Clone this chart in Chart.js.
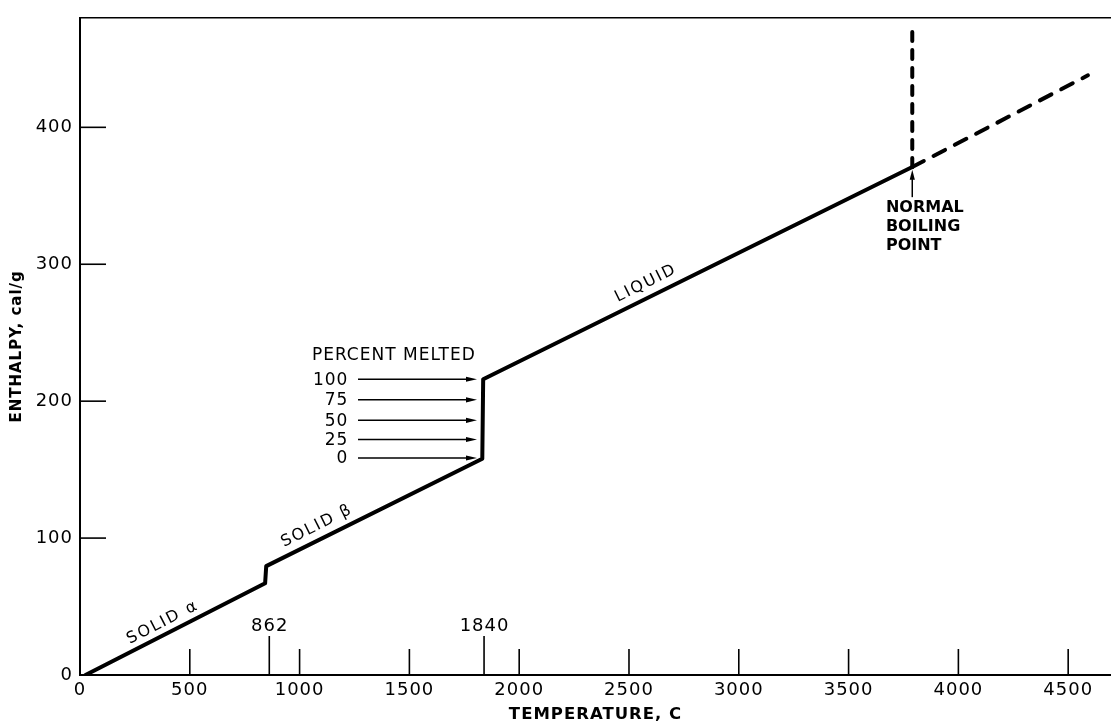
<!DOCTYPE html>
<html>
<head>
<meta charset="utf-8">
<title>Enthalpy vs temperature</title>
<script src="https://cdn.jsdelivr.net/npm/chart.js@4/dist/chart.umd.min.js"></script>
<style>
  html, body { margin: 0; padding: 0; background: #fff; }
  #wrap { width: 1111px; height: 727px; position: relative; }
</style>
</head>
<body>
<div id="wrap"><canvas id="c"></canvas></div>
<script>
// Enthalpy path: solid α, α→β step, solid β, melting step, liquid up to the normal boiling point
const pathTemp = [25, 843, 848, 1832, 1836, 3790];
const pathEnth = [0, 67, 79.5, 158, 216, 371];
// Boiling at constant temperature (dashed vertical)
const boilTemp = [3790, 3790];
const boilEnth = [371, 472];
// Liquid above the boiling point (extrapolated, dashed)
const extTemp = [3790, 4590];
const extEnth = [371, 438];
// Axis ticks
const xTickValues = [0, 500, 1000, 1500, 2000, 2500, 3000, 3500, 4000, 4500];
const yTickValues = [0, 100, 200, 300, 400];
// Transition temperatures marked on the temperature axis
const transitionTemps = [862, 1840];
// Fraction melted along the melting step
const meltPercent = ['100', '75', '50', '25', '0'];
const meltEnth = [216, 201, 186, 172, 158.5];
// Phase names written along the curve
const phaseLabels = ['SOLID α', 'SOLID β', 'LIQUID'];
const boilingNote = ['NORMAL', 'BOILING', 'POINT'];

const FONT = '"DejaVu Sans", sans-serif';
Chart.defaults.font.family = FONT;
Chart.defaults.color = '#000';

const pts = (xs, ys) => xs.map((v, i) => ({ x: v, y: ys[i] }));

const decor = {
  id: 'decor',
  beforeDraw(chart) {
    chart.ctx.letterSpacing = '1px';
  },
  afterDraw(chart) {
    const { ctx, chartArea: a, scales: { x, y } } = chart;
    const X = v => x.getPixelForValue(v);
    const Y = v => y.getPixelForValue(v);
    ctx.save();
    ctx.strokeStyle = '#000';
    ctx.fillStyle = '#000';
    ctx.lineCap = 'butt';
    const seg = (x1, y1, x2, y2, w) => {
      ctx.lineWidth = w;
      ctx.beginPath();
      ctx.moveTo(x1, y1);
      ctx.lineTo(x2, y2);
      ctx.stroke();
    };

    // top edge of the frame
    seg(a.left, a.top, a.right, a.top, 1.5);

    // tick marks pointing into the plot
    xTickValues.forEach(v => { if (v > 0) seg(X(v), a.bottom, X(v), a.bottom - 26, 1.6); });
    yTickValues.forEach(v => { if (v > 0) seg(a.left, Y(v), a.left + 26, Y(v), 1.6); });

    // transition temperatures
    ctx.font = '18px ' + FONT;
    ctx.letterSpacing = '1px';
    ctx.textAlign = 'center';
    ctx.textBaseline = 'alphabetic';
    transitionTemps.forEach(t => {
      seg(X(t), a.bottom, X(t), a.bottom - 39, 1.6);
      ctx.fillText(String(t), X(t) + 0.5, a.bottom - 44);
    });

    // percent-melted arrows
    const arrowRight = (x1, x2, yy) => {
      seg(x1, yy, x2 - 8, yy, 1.5);
      ctx.beginPath();
      ctx.moveTo(x2, yy);
      ctx.lineTo(x2 - 11, yy - 2.6);
      ctx.lineTo(x2 - 11, yy + 2.6);
      ctx.closePath();
      ctx.fill();
    };
    ctx.font = '17px ' + FONT;
    ctx.textAlign = 'right';
    ctx.textBaseline = 'middle';
    meltEnth.forEach((h, i) => {
      arrowRight(X(1266), X(1808), Y(h));
      ctx.fillText(meltPercent[i], X(1222), Y(h) + 1);
    });
    ctx.textAlign = 'left';
    ctx.fillText('PERCENT MELTED', X(1056), Y(233.6));

    // normal boiling point note and arrow
    const bx = X(boilTemp[0]);
    seg(bx, Y(349), bx, Y(369) + 8, 1.5);
    ctx.beginPath();
    ctx.moveTo(bx, Y(369));
    ctx.lineTo(bx - 2.6, Y(369) + 10);
    ctx.lineTo(bx + 2.6, Y(369) + 10);
    ctx.closePath();
    ctx.fill();
    ctx.font = 'bold 16px ' + FONT;
    ctx.letterSpacing = '0px';
    ctx.textAlign = 'left';
    boilingNote.forEach((s, i) => ctx.fillText(s, X(3670), Y(341.4) + i * 19.3));

    // phase names along the curve
    ctx.font = '16px ' + FONT;
    ctx.letterSpacing = '2px';
    ctx.textAlign = 'center';
    ctx.textBaseline = 'middle';
    const place = [[373, 38, 0], [1075, 108.5, 2], [2573, 285.7, 4]];
    phaseLabels.forEach((s, i) => {
      const [t, h, k] = place[i];
      const ang = Math.atan2(Y(pathEnth[k + 1]) - Y(pathEnth[k]), X(pathTemp[k + 1]) - X(pathTemp[k]));
      ctx.save();
      ctx.translate(X(t), Y(h));
      ctx.rotate(ang);
      ctx.fillText(s, 1, 0);
      ctx.restore();
    });
    ctx.restore();
  }
};

new Chart(document.getElementById('c'), {
  type: 'line',
  data: {
    datasets: [
      {
        data: pts(pathTemp, pathEnth),
        borderColor: '#000',
        borderWidth: 4,
        pointRadius: 0,
        borderJoinStyle: 'round',
        borderCapStyle: 'round',
        tension: 0,
        fill: false
      },
      {
        data: pts(boilTemp, boilEnth),
        borderColor: '#000',
        borderWidth: 4,
        pointRadius: 0,
        borderCapStyle: 'round',
        borderDash: [9, 9],
        fill: false
      },
      {
        data: pts(extTemp, extEnth),
        borderColor: '#000',
        borderWidth: 4,
        pointRadius: 0,
        borderCapStyle: 'round',
        borderDash: [13, 11],
        fill: false
      }
    ]
  },
  options: {
    responsive: true,
    maintainAspectRatio: false,
    animation: false,
    events: [],
    layout: { padding: { top: 10, right: 0, bottom: 0, left: 0 } },
    plugins: { legend: { display: false }, tooltip: { enabled: false } },
    scales: {
      x: {
        type: 'linear',
        min: 0,
        max: 4695,
        afterBuildTicks: s => { s.ticks = xTickValues.map(v => ({ value: v })); },
        afterFit: s => { s.height = 52; },
        grid: { drawOnChartArea: false, drawTicks: false, color: 'rgba(0,0,0,0)' },
        border: { color: '#000', width: 2 },
        ticks: { color: '#000', font: { size: 18 }, padding: 5, maxRotation: 0, autoSkip: false, callback: v => String(v) },
        title: {
          display: true, text: 'TEMPERATURE, C', color: '#000',
          font: { size: 16.5, weight: 'bold' }, padding: { top: 0, bottom: 2 }
        }
      },
      y: {
        type: 'linear',
        min: 0,
        max: 480,
        afterBuildTicks: s => { s.ticks = yTickValues.map(v => ({ value: v })); },
        afterFit: s => { s.width = 80; },
        grid: { drawOnChartArea: false, drawTicks: false, color: 'rgba(0,0,0,0)' },
        border: { color: '#000', width: 2 },
        ticks: { color: '#000', font: { size: 18 }, padding: 7, autoSkip: false, callback: v => String(v) },
        title: {
          display: true, text: 'ENTHALPY, cal/g', color: '#000',
          font: { size: 15, weight: 'bold' }, padding: { top: 8, bottom: 0 }
        }
      }
    }
  },
  plugins: [decor]
});
</script>
</body>
</html>
